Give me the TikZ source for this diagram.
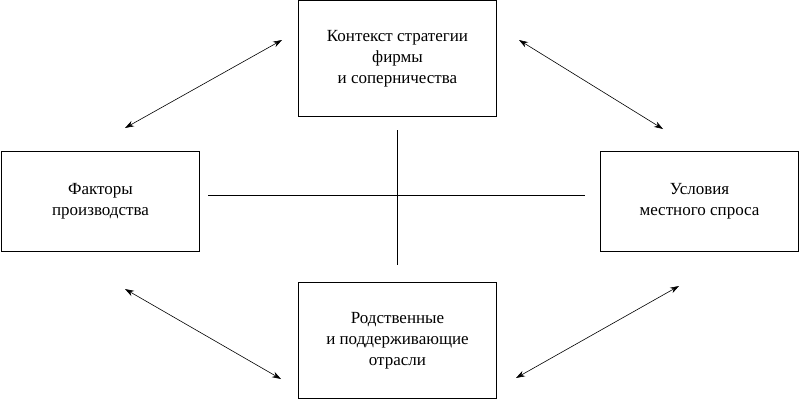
\documentclass[tikz,border=0pt]{standalone}
\usepackage{fontspec}
\setmainfont{Liberation Serif}
\usetikzlibrary{arrows.meta}
\begin{document}
\begin{tikzpicture}[x=1pt,y=-1pt,
  box/.style={draw,line width=1pt,minimum width=198pt,minimum height=114pt,align=center,font=\fontsize{17}{21}\selectfont,inner sep=0pt},
  arr/.style={{Stealth[length=9pt,width=6pt]}-{Stealth[length=9pt,width=6pt]},line width=0.6pt},
  ln/.style={line width=0.6pt}]
\useasboundingbox (0,0) rectangle (800,400);
\node[box,minimum height=116pt] (top) at (397.5,58.5) {Контекст стратегии\\фирмы\\и соперничества};
\node[box,minimum height=100pt] (left) at (100.5,201) {Факторы\\производства};
\node[box,minimum height=100pt] (right) at (699.5,201) {Условия\\местного спроса};
\node[box,minimum height=116pt] (bot) at (397.5,340.5) {Родственные\\и поддерживающие\\отрасли};
\coordinate (h1) at (208,195); \coordinate (h2) at (585,195);
\coordinate (v1) at (397,130); \coordinate (v2) at (397,265);
\draw[ln] (h1) -- (h2);
\draw[ln] (v1) -- (v2);
\coordinate (a1) at (125,128); \coordinate (a2) at (282,40);
\coordinate (b1) at (519,40); \coordinate (b2) at (663,129);
\coordinate (c1) at (125,289); \coordinate (c2) at (281,379);
\coordinate (d1) at (679,286); \coordinate (d2) at (516,378);
\draw[arr] (a1) -- (a2);
\draw[arr] (b1) -- (b2);
\draw[arr] (c1) -- (c2);
\draw[arr] (d1) -- (d2);
\end{tikzpicture}
\end{document}
